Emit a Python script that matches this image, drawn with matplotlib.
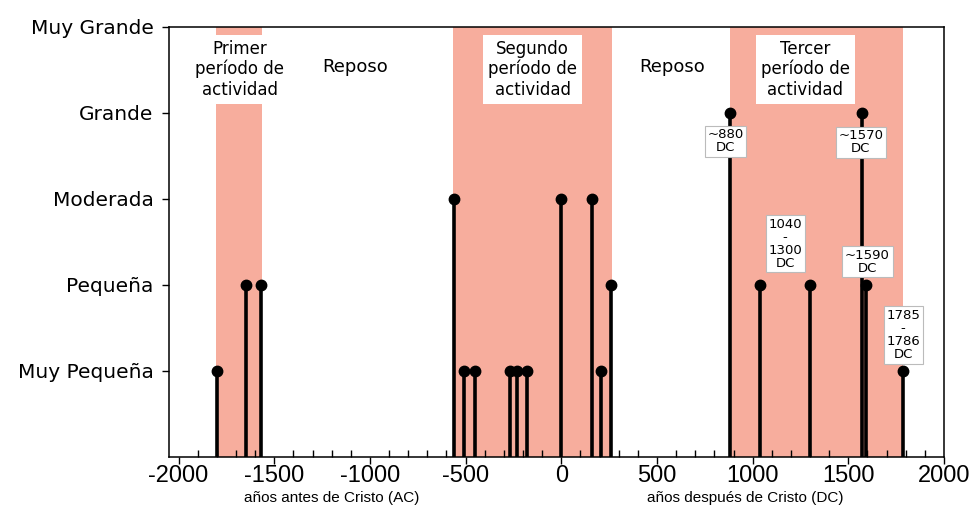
import matplotlib
matplotlib.use("Agg")
import matplotlib.pyplot as plt
from matplotlib.ticker import MultipleLocator
import matplotlib.transforms as mtransforms

# eruption years and size (1 = Muy Pequeña ... 5 = Muy Grande)
years = [-1800, -1650, -1570, -560, -510, -450, -270, -230, -180, 0, 160, 210, 260,
         880, 1040, 1300, 1570, 1590, 1785]
sizes = [1, 2, 2, 3, 1, 1, 1, 1, 1, 3, 3, 1, 2,
         4, 2, 2, 4, 2, 1]

size_names = ["Muy Pequeña", "Pequeña", "Moderada", "Grande", "Muy Grande"]

# activity periods (start, end)
period_start = [-1805, -565, 880]
period_end = [-1565, 265, 1785]
period_names = ["Primer\nperíodo de\nactividad", "Segundo\nperíodo de\nactividad",
                "Tercer\nperíodo de\nactividad"]
period_x = [-1680, -150, 1275]

rest_names = ["Reposo", "Reposo"]
rest_x = [-1075, 580]

# date notes next to the eruptions
note_text = ["~880\nDC", "~1570\nDC", "1040\n-\n1300\nDC", "~1590\nDC", "1785\n-\n1786\nDC"]
note_x = [857, 1565, 1170, 1600, 1787]
note_y = [3.67, 3.66, 2.48, 2.27, 1.42]

xticks = [-2000, -1500, -1000, -500, 0, 500, 1000, 1500, 2000]

shade = "#f7ad9d"
narrow = ["Liberation Sans Narrow", "Liberation Sans"]

fig = plt.figure(figsize=(9.76, 5.14), dpi=100)
ax = fig.add_axes([169 / 976, 1 - 457 / 514, (944 - 169) / 976, (457 - 27) / 514])

for a, b in zip(period_start, period_end):
    ax.axvspan(a, b, color=shade, lw=0, zorder=0)

ax.vlines(years, 0, sizes, color="black", lw=2.6, zorder=2)
ax.plot(years, sizes, "o", color="black", ms=7.5, zorder=3)

for name, x in zip(period_names, period_x):
    ax.text(x, 4.51, name, ha="center", va="center", fontsize=12, zorder=5,
            linespacing=1.15,
            bbox=dict(boxstyle="square,pad=0.3", fc="white", ec="none"))
for name, x in zip(rest_names, rest_x):
    ax.text(x, 4.53, name, ha="center", va="center", fontsize=13, zorder=5)

for t, x, y in zip(note_text, note_x, note_y):
    ax.text(x, y, t, ha="center", va="center", fontsize=9.5, zorder=6,
            linespacing=1.0,
            bbox=dict(boxstyle="square,pad=0.2", fc="white", ec="#bbbbbb", lw=0.8))

ax.set_xlim(-2050, 2000)
ax.set_ylim(0, 5)

ax.set_yticks(range(1, 6))
ax.set_yticklabels(size_names, fontsize=14.5)
ax.set_xticks(xticks)
ax.set_xticklabels([str(v) for v in xticks], fontsize=17, family=narrow)
ax.xaxis.set_minor_locator(MultipleLocator(100))
ax.tick_params(axis="x", which="major", direction="out", length=5, width=1, pad=1)
ax.tick_params(axis="x", which="minor", direction="in", length=5, width=1)
ax.tick_params(axis="y", direction="out", length=5, width=1, pad=6)

for s in ax.spines.values():
    s.set_linewidth(1.1)

trans = mtransforms.blended_transform_factory(ax.transData, fig.transFigure)
ax.text(-1200, 1 - 498 / 514, "años antes de Cristo (AC)", transform=trans,
        ha="center", va="center", fontsize=11, family=narrow)
ax.text(960, 1 - 498 / 514, "años después de Cristo (DC)", transform=trans,
        ha="center", va="center", fontsize=11, family=narrow)

fig.savefig("out.png", dpi=100)
